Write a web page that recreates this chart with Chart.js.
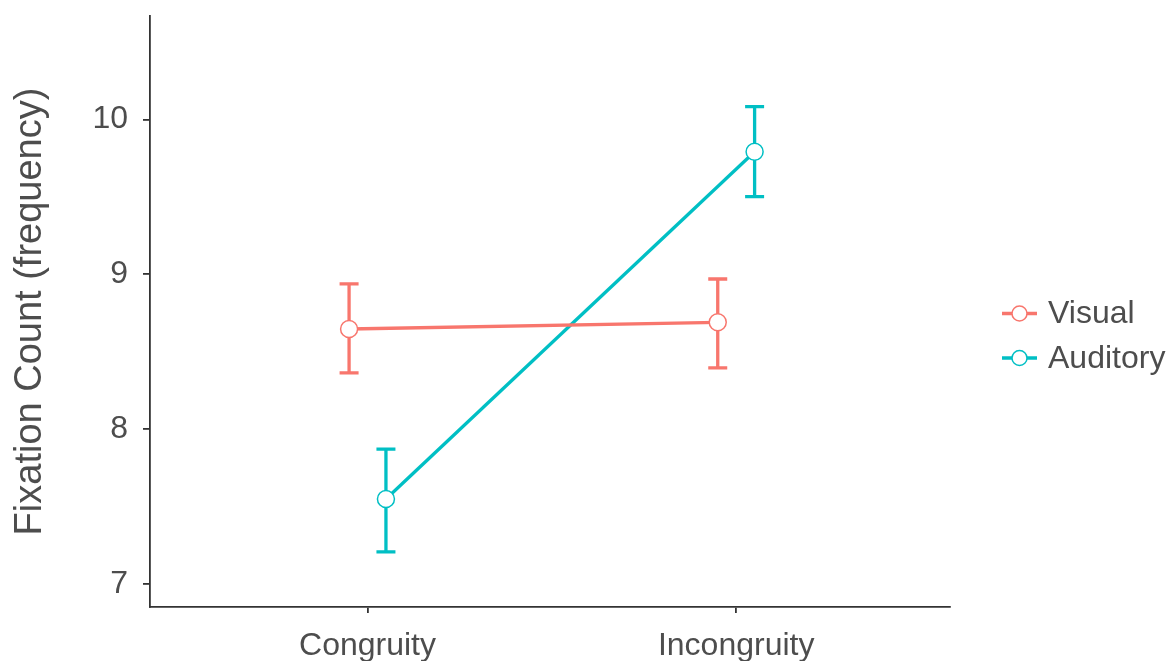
<!DOCTYPE html>
<html>
<head>
<meta charset="utf-8">
<script src="https://cdn.jsdelivr.net/npm/chart.js@4.4.1/dist/chart.umd.min.js"></script>
<style>
  html, body { margin: 0; padding: 0; background: #ffffff; }
  #wrap { width: 1173px; height: 661px; }
</style>
</head>
<body>
<div id="wrap"><canvas id="c" width="1173" height="661"></canvas></div>
<script>
// ---- data ----
const categories = ['Congruity', 'Incongruity'];
const groups = ['Visual', 'Auditory'];
const visualMean = [8.647, 8.69];
const visualUpper = [8.938, 8.97];
const visualLower = [8.363, 8.395];
const auditoryMean = [7.548, 9.793];
const auditoryUpper = [7.871, 10.084];
const auditoryLower = [7.206, 9.502];
const yTicks = [7, 8, 9, 10];
const yTitle = 'Fixation Count (frequency)';

// ---- styles ----
const colors = ['#F8766D', '#00BFC4'];
const dodge = [-0.05, 0.05];
const font = '"Liberation Sans", Arial, sans-serif';
const textColor = '#4d4d4d';

const means = [visualMean, auditoryMean];
const uppers = [visualUpper, auditoryUpper];
const lowers = [visualLower, auditoryLower];

const datasets = groups.map((g, gi) => ({
  label: g,
  data: categories.map((c, ci) => ({ x: ci + 1 + dodge[gi], y: means[gi][ci], lo: lowers[gi][ci], hi: uppers[gi][ci] })),
  borderColor: colors[gi],
  backgroundColor: '#ffffff',
  borderWidth: 3.3,
  pointRadius: 8.5,
  pointHoverRadius: 8.5,
  pointBorderWidth: 1.5,
  pointBorderColor: colors[gi],
  pointBackgroundColor: '#ffffff',
  tension: 0,
  fill: false
}));

const errorBars = {
  id: 'errorBars',
  beforeDatasetsDraw(chart) {
    const ctx = chart.ctx;
    const xs = chart.scales.x, ys = chart.scales.y;
    chart.data.datasets.forEach((ds) => {
      ctx.save();
      ctx.strokeStyle = ds.borderColor;
      ctx.lineWidth = 3.3;
      ctx.lineCap = 'butt';
      ds.data.forEach((p) => {
        const x = xs.getPixelForValue(p.x);
        const yl = ys.getPixelForValue(p.lo);
        const yh = ys.getPixelForValue(p.hi);
        const w = 9.5;
        ctx.beginPath();
        ctx.moveTo(x, yl); ctx.lineTo(x, yh);
        ctx.moveTo(x - w, yl); ctx.lineTo(x + w, yl);
        ctx.moveTo(x - w, yh); ctx.lineTo(x + w, yh);
        ctx.stroke();
      });
      ctx.restore();
    });
  }
};

const customLegend = {
  id: 'customLegend',
  afterDraw(chart) {
    const ctx = chart.ctx;
    const x0 = 1002, x1 = 1037, cx = 1019.5;
    const rowY = [313.5, 358];
    chart.data.datasets.forEach((ds, i) => {
      const y = rowY[i];
      ctx.save();
      ctx.strokeStyle = ds.borderColor;
      ctx.lineWidth = 3.3;
      ctx.beginPath();
      ctx.moveTo(x0, y); ctx.lineTo(x1, y);
      ctx.stroke();
      ctx.beginPath();
      ctx.arc(cx, y, 7.5, 0, Math.PI * 2);
      ctx.fillStyle = '#ffffff';
      ctx.fill();
      ctx.lineWidth = 1.5;
      ctx.stroke();
      ctx.fillStyle = textColor;
      ctx.font = '32px ' + font;
      ctx.textAlign = 'left';
      ctx.textBaseline = 'middle';
      ctx.fillText(ds.label, 1048, y + 1);
      ctx.restore();
    });
  }
};

new Chart(document.getElementById('c'), {
  type: 'line',
  data: { datasets },
  options: {
    responsive: false,
    animation: false,
    events: [],
    layout: { padding: { left: 0, right: 223, top: 16, bottom: 0 } },
    plugins: { legend: { display: false }, tooltip: { enabled: false } },
    scales: {
      x: {
        type: 'linear',
        min: 0.41,
        max: 2.58,
        afterBuildTicks(scale) { scale.ticks = categories.map((c, i) => ({ value: i + 1 })); },
        afterFit(scale) { scale.height = 54; scale.paddingLeft = 0; scale.paddingRight = 0; },
        ticks: {
          callback: (v) => categories[Math.round(v) - 1],
          color: textColor,
          font: { family: font, size: 32 },
          padding: 14,
          maxRotation: 0,
          autoSkip: false
        },
        grid: { drawOnChartArea: false, drawTicks: true, tickLength: 6, color: '#333333', lineWidth: 1.8 },
        border: { display: true, color: '#333333', width: 1.8 }
      },
      y: {
        type: 'linear',
        min: 6.85,
        max: 10.67,
        afterBuildTicks(scale) { scale.ticks = yTicks.map(v => ({ value: v })); },
        afterFit(scale) { scale.width = 150; scale.paddingTop = 0; scale.paddingBottom = 0; },
        ticks: {
          color: textColor,
          font: { family: font, size: 32 },
          padding: 15
        },
        title: {
          display: true,
          text: yTitle,
          color: textColor,
          font: { family: font, size: 38 },
          padding: { top: 8, bottom: 0 }
        },
        grid: { drawOnChartArea: false, drawTicks: true, tickLength: 7, color: '#333333', lineWidth: 1.8 },
        border: { display: true, color: '#333333', width: 1.8 }
      }
    }
  },
  plugins: [errorBars, customLegend]
});
</script>
</body>
</html>
